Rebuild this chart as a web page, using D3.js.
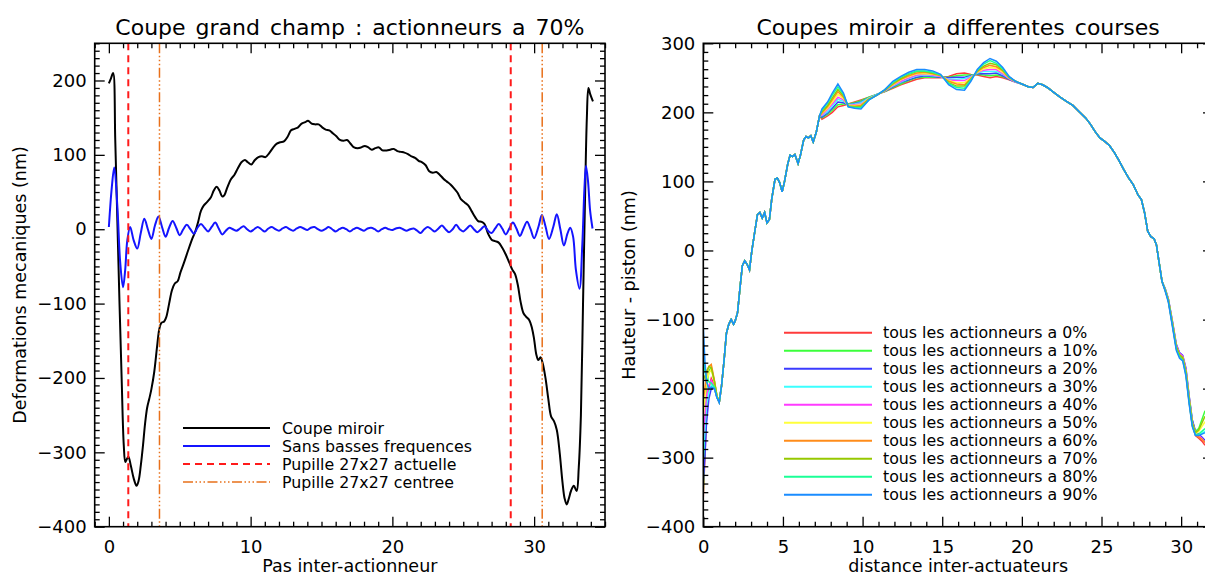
<!DOCTYPE html>
<html>
<head>
<meta charset="utf-8">
<script src="https://d3js.org/d3.v7.min.js"></script>
<style>
  body { margin: 0; background: #fff; }
  svg { display: block; font-family: "DejaVu Sans", sans-serif; }
  .tick text { font-family: "DejaVu Sans", sans-serif; font-size: 18px; fill: #000; }
  .tick line { stroke: #000; stroke-width: 1.3; }
  .titre { font-size: 22px; word-spacing: 3px; }
  .label { font-size: 17.5px; }
  .legende text { font-size: 15.8px; }
</style>
</head>
<body>
<svg id="fig" width="1205" height="577"></svg>
<script>

// ---- panneau gauche : coupe grand champ ----
var xMiroir = [0, 0.15, 0.3, 0.45, 0.6, 0.75, 0.9, 1.05, 1.16, 1.27, 1.38, 1.55, 1.75, 1.95, 2.1, 2.25, 2.4, 2.55, 2.7, 2.85,
  3.0, 3.2, 3.4, 3.55, 3.7, 3.9, 4.05, 4.25, 4.45, 4.65, 4.85, 5.05, 5.3, 5.6, 5.9, 6.1, 6.3, 6.5, 6.7, 6.95,
  7.2, 7.4, 7.6, 7.8, 8.0, 8.15, 8.35, 8.6, 8.85, 9.1, 9.35, 9.6, 9.8, 10.05, 10.3, 10.55, 10.8, 11.05, 11.3, 11.6,
  11.85, 12.1, 12.35, 12.6, 12.85, 13.1, 13.35, 13.6, 13.85, 14.05, 14.3, 14.55, 14.8, 15.05, 15.3, 15.55, 15.8, 16.05, 16.3, 16.55,
  16.8, 17.05, 17.3, 17.55, 17.8, 18.05, 18.3, 18.55, 18.8, 19.05, 19.3, 19.6, 19.85, 20.1, 20.35, 20.6, 20.85, 21.1, 21.35, 21.6,
  21.85, 22.1, 22.35, 22.6, 22.85, 23.1, 23.35, 23.6, 23.85, 24.1, 24.35, 24.6, 24.85, 25.1, 25.35, 25.6, 25.85, 26.05, 26.3, 26.5,
  26.75, 27.0, 27.25, 27.5, 27.75, 28.0, 28.25, 28.45, 28.65, 28.85, 29.05, 29.25, 29.45, 29.65, 29.85, 30.0, 30.15, 30.3, 30.45, 30.6,
  30.8, 31.0, 31.2, 31.4, 31.6, 31.8, 32.0, 32.15, 32.3, 32.45, 32.6, 32.8, 33.0, 33.15, 33.3, 33.45, 33.6, 33.72, 33.83, 33.95,
  34.15];
var yMiroir = [196, 203, 210, 120, 10, -100, -200, -290, -313, -309, -306, -318, -335, -345, -338, -318, -292, -262, -240, -228,
  -215, -192, -158, -135, -126, -124, -118, -100, -82, -73, -70, -58, -45, -28, -12, -3, 10, 25, 32, 37,
  43, 52, 57, 52, 44, 46, 56, 67, 73, 82, 90, 93, 90, 87, 93, 97, 98, 97, 102, 110,
  115, 117, 118, 124, 133, 135, 137, 142, 144, 146, 142, 141, 141, 137, 134, 133, 129, 125, 120, 119,
  120, 115, 110, 109, 110, 112, 110, 107, 109, 110, 106, 106, 107, 108, 105, 104, 103, 101, 98, 96,
  92, 90, 86, 78, 76, 77, 73, 68, 64, 60, 55, 49, 40, 36, 32, 24, 16, 11, 10, 7,
  -6, -14, -16, -18, -25, -34, -45, -54, -60, -75, -98, -113, -118, -122, -133, -148, -168, -176, -172, -180,
  -200, -228, -252, -258, -270, -300, -340, -362, -370, -362, -352, -345, -352, -320, -250, -100, 50, 150, 190, 182,
  172];

var xSansBF = [0, 0.2, 0.38, 0.6, 0.8, 1.0, 1.15, 1.3, 1.5, 1.75, 2.0, 2.25, 2.5, 2.75, 3.0, 3.25, 3.5, 3.75, 4.0, 4.25,
  4.5, 4.75, 5.0, 5.25, 5.5, 5.75, 6.0, 6.25, 6.5, 6.75, 7.0, 7.25, 7.5, 7.75, 8.0, 8.25, 8.5, 8.75, 9.0, 9.25,
  9.5, 9.75, 10.0, 10.25, 10.5, 10.75, 11.0, 11.25, 11.5, 11.75, 12.0, 12.25, 12.5, 12.75, 13.0, 13.25, 13.5, 13.75, 14.0, 14.25,
  14.5, 14.75, 15.0, 15.25, 15.5, 15.75, 16.0, 16.25, 16.5, 16.75, 17.0, 17.25, 17.5, 17.75, 18.0, 18.25, 18.5, 18.75, 19.0, 19.25,
  19.5, 19.75, 20.0, 20.25, 20.5, 20.75, 21.0, 21.25, 21.5, 21.75, 22.0, 22.25, 22.5, 22.75, 23.0, 23.25, 23.5, 23.75, 24.0, 24.25,
  24.5, 24.75, 25.0, 25.25, 25.5, 25.75, 26.0, 26.25, 26.5, 26.75, 27.0, 27.25, 27.5, 27.75, 28.0, 28.25, 28.5, 28.75, 29.0, 29.25,
  29.5, 29.75, 30.0, 30.3, 30.55, 30.8, 31.05, 31.35, 31.6, 31.85, 32.1, 32.35, 32.55, 32.75, 32.95, 33.2, 33.4, 33.55, 33.66, 33.8,
  33.95, 34.12];
var ySansBF = [3, 55, 83, 30, -45, -78, -55, -15, 3, -15, -26, -5, 14, 0, -13, 5, 17, 3, -10, 2,
  11, 2, -8, 0, 6, 0, -6, 2, 7, 2, -3, 3, 9, 1, -7, -2, 2, 0, -2, 1,
  4, 0, -3, 0, 3, 0, -3, 1, 3, 0, -2, 1, 3, 0, -2, 1, 3, 1, -1, 2,
  3, 0, -2, 0, 3, 0, -3, 0, 2, 0, -3, 0, 2, 0, -2, 1, 2, 0, -3, 0,
  2, 0, -1, 1, 2, 0, -2, 0, 1, -2, -5, 0, 3, 0, -3, 1, 5, 0, -4, 0,
  6, 0, -3, 1, 5, 0, -4, 0, 4, -2, -5, 1, 7, 1, -7, 1, 9, 1, -9, 1,
  10, 0, -12, 3, 19, 4, -13, 3, 20, 0, -22, -6, 2, -10, -55, -80, -20, 55, 85, 65,
  25, 1];

var pupilleActuelle = [1.37, 28.35];
var pupilleCentree = [3.57, 30.57];
var legendeGauche = ["Coupe miroir", "Sans basses frequences", "Pupille 27x27 actuelle", "Pupille 27x27 centree"];

// ---- panneau droit : coupes a differentes courses ----
var courses = ["0%", "10%", "20%", "30%", "40%", "50%", "60%", "70%", "80%", "90%"];
var couleurs = ["#ff3b3b", "#3bff3b", "#3b3bff", "#3bffff", "#ff3bff", "#ffff3b", "#ff8c1a", "#96c800", "#1aff96", "#1a8cff"];

var xDebut = [0, 0.1, 0.2, 0.35, 0.5, 0.7, 0.85, 1.0];
var yDebut = [
  [-357, -300, -240, -200, -185, -195, -212, -220],
  [-350, -280, -200, -175, -168, -190, -210, -220],
  [-335, -300, -250, -215, -200, -200, -212, -220],
  [-300, -260, -225, -205, -195, -200, -212, -220],
  [-270, -240, -210, -195, -188, -198, -212, -220],
  [-240, -215, -190, -178, -172, -192, -210, -220],
  [-215, -200, -180, -168, -165, -188, -210, -220],
  [-180, -185, -175, -168, -170, -190, -210, -220],
  [-150, -175, -185, -190, -192, -198, -212, -220],
  [-110, -160, -190, -200, -198, -200, -213, -220]
];

var xCommunA = [1.15, 1.3, 1.45, 1.6, 1.75, 1.9, 2.0, 2.15, 2.3, 2.45, 2.6, 2.75, 2.9, 3.05, 3.25, 3.4, 3.55, 3.7, 3.85, 4.0,
  4.15, 4.3, 4.5, 4.65, 4.8, 4.95, 5.1, 5.3, 5.45, 5.6, 5.75, 5.95, 6.1, 6.3, 6.45, 6.6, 6.75, 6.9, 7.1, 7.3];
var yCommunA = [-195, -160, -120, -107, -100, -107, -102, -90, -55, -22, -15, -20, -28, 0, 30, 52, 55, 47, 55, 40,
  45, 75, 103, 105, 98, 85, 100, 125, 138, 136, 139, 126, 138, 160, 165, 163, 166, 157, 172, 195];

var xMilieu = [7.45, 7.8, 8.1, 8.45, 8.8, 9.1, 9.5, 9.9, 10.4, 10.9, 11.4, 11.9, 12.4, 12.9, 13.4, 13.9, 14.4, 14.9, 15.4, 15.9,
  16.4, 16.8, 17.2, 17.6, 18.0, 18.4, 18.8, 19.2, 19.6];
var yMilieu = [
  [190, 195, 200, 208, 210, 212, 215, 218, 222, 226, 230, 235, 240, 244, 248, 250, 250, 250, 252, 256, 257, 255, 254, 252, 250, 252, 250, 247, 244],
  [192, 197, 203, 211, 212, 212, 214, 217, 222, 226, 230, 236, 241, 246, 250, 251, 251, 251, 251, 253, 254, 254, 255, 254, 253, 254, 252, 248, 244],
  [193, 199, 206, 215, 214, 211, 213, 215, 221, 226, 231, 237, 243, 247, 251, 253, 252, 251, 250, 251, 251, 253, 256, 256, 256, 257, 253, 248, 244],
  [195, 201, 209, 219, 216, 211, 212, 214, 221, 226, 231, 238, 244, 249, 253, 254, 253, 252, 248, 248, 249, 252, 257, 259, 259, 259, 255, 249, 244],
  [196, 204, 212, 222, 218, 210, 211, 212, 220, 225, 231, 239, 245, 250, 254, 255, 254, 252, 247, 246, 246, 251, 258, 261, 262, 262, 256, 249, 244],
  [198, 206, 215, 226, 220, 210, 210, 211, 220, 225, 232, 240, 247, 252, 256, 256, 255, 253, 246, 243, 243, 250, 258, 263, 265, 264, 258, 250, 245],
  [199, 208, 218, 230, 222, 209, 209, 210, 219, 225, 232, 241, 248, 253, 257, 258, 256, 253, 245, 241, 240, 249, 259, 265, 268, 266, 260, 250, 245],
  [201, 210, 221, 233, 224, 209, 208, 208, 219, 225, 232, 242, 249, 255, 259, 259, 257, 254, 243, 238, 238, 248, 260, 267, 271, 269, 261, 251, 245],
  [203, 213, 225, 237, 226, 208, 207, 207, 218, 225, 233, 243, 251, 256, 260, 260, 258, 254, 242, 236, 235, 247, 261, 270, 275, 271, 263, 251, 245],
  [205, 215, 228, 241, 228, 208, 206, 205, 218, 225, 233, 245, 252, 258, 262, 262, 260, 255, 240, 233, 232, 245, 262, 272, 278, 274, 265, 252, 245]
];

var xCommunB = [20.0, 20.4, 20.7, 21.0, 21.3, 21.6, 22.0, 22.4, 22.8, 23.2, 23.6, 24.0, 24.3, 24.6, 24.9, 25.2, 25.5, 25.8, 26.1, 26.4,
  26.7, 27.0, 27.3, 27.5, 27.7, 27.9, 28.1, 28.3, 28.45, 28.6, 28.8];
var yCommunB = [241, 237, 236, 242, 240, 236, 229, 222, 216, 210, 201, 192, 183, 172, 163, 158, 152, 142, 130, 117,
  105, 95, 80, 74, 55, 28, 20, 17, 8, -15, -45];

var xFin = [29.0, 29.2, 29.45, 29.7, 29.9, 30.1, 30.3, 30.5, 30.7, 30.9, 31.1, 31.3, 31.5];
var yFin = [
  [-57, -73, -107, -142, -152, -157, -178, -218, -253, -268, -272, -276, -282],
  [-56, -71, -104, -138, -149, -154, -173, -212, -246, -262, -258, -245, -232],
  [-55, -70, -102, -136, -148, -152, -170, -210, -245, -262, -266, -270, -275],
  [-57, -72, -105, -140, -151, -156, -176, -216, -250, -265, -267, -265, -262],
  [-56, -71, -103, -137, -149, -153, -172, -212, -248, -264, -268, -272, -278],
  [-57, -72, -105, -140, -151, -155, -175, -215, -250, -265, -262, -255, -248],
  [-58, -73, -106, -141, -152, -157, -177, -218, -252, -267, -270, -273, -278],
  [-57, -72, -105, -139, -151, -155, -175, -214, -249, -264, -260, -250, -240],
  [-58, -74, -108, -143, -154, -159, -180, -220, -254, -267, -266, -262, -258],
  [-59, -75, -110, -145, -156, -160, -182, -222, -255, -268, -268, -266, -264]
];

var svg = d3.select("#fig");
svg.append("rect").attr("width", 1205).attr("height", 577).attr("fill", "#fff");

function panneau(o) {
  var x = d3.scaleLinear().domain(o.xDom).range([o.left, o.right]);
  var y = d3.scaleLinear().domain(o.yDom).range([o.bottom, o.top]);

  svg.append("clipPath").attr("id", "clip" + o.nom)
    .append("rect")
    .attr("x", o.left).attr("y", o.top)
    .attr("width", o.right - o.left).attr("height", o.bottom - o.top);

  var g = svg.append("g");
  var plot = g.append("g").attr("clip-path", "url(#clip" + o.nom + ")");

  function pose(axe, tx, ty) {
    var a = g.append("g").attr("transform", "translate(" + tx + "," + ty + ")").call(axe);
    a.select(".domain").remove();
    return a;
  }
  var fmt = d3.format("d");
  // bas
  pose(d3.axisBottom(x).tickValues(o.xMaj).tickSize(-10).tickPadding(14).tickFormat(fmt), 0, o.bottom);
  pose(d3.axisBottom(x).tickValues(o.xMin).tickSize(-5).tickFormat(""), 0, o.bottom);
  // haut
  pose(d3.axisTop(x).tickValues(o.xMaj).tickSize(-10).tickFormat(""), 0, o.top);
  pose(d3.axisTop(x).tickValues(o.xMin).tickSize(-5).tickFormat(""), 0, o.top);
  // gauche
  pose(d3.axisLeft(y).tickValues(o.yMaj).tickSize(-10).tickPadding(8).tickFormat(fmt), o.left, 0);
  pose(d3.axisLeft(y).tickValues(o.yMin).tickSize(-5).tickFormat(""), o.left, 0);
  // droite
  pose(d3.axisRight(y).tickValues(o.yMaj).tickSize(-10).tickFormat(""), o.right, 0);
  pose(d3.axisRight(y).tickValues(o.yMin).tickSize(-5).tickFormat(""), o.right, 0);

  g.append("rect")
    .attr("x", o.left).attr("y", o.top)
    .attr("width", o.right - o.left).attr("height", o.bottom - o.top)
    .attr("fill", "none").attr("stroke", "#000").attr("stroke-width", 1.6);

  var cx = (o.left + o.right) / 2;
  g.append("text").attr("class", "titre")
    .attr("x", cx).attr("y", 34.5).attr("text-anchor", "middle").text(o.titre);
  g.append("text").attr("class", "label")
    .attr("x", cx).attr("y", 571.5).attr("text-anchor", "middle").text(o.xTitre);
  g.append("text").attr("class", "label")
    .attr("transform", "translate(" + o.yTitreX + "," + ((o.top + o.bottom) / 2) + ") rotate(-90)")
    .attr("text-anchor", "middle").text(o.yTitre);

  return {x: x, y: y, plot: plot, g: g};
}

// ---------- gauche ----------
var G = panneau({
  nom: "G", left: 94.7, right: 605, top: 43.3, bottom: 526.7,
  xDom: [-1, 35], yDom: [-400, 250],
  xMaj: [0, 10, 20, 30], xMin: d3.range(-1, 36).filter(v => v % 10 !== 0),
  yMaj: [-400, -300, -200, -100, 0, 100, 200], yMin: d3.range(-400, 251, 10).filter(v => v % 100 !== 0),
  titre: "Coupe grand champ : actionneurs a 70%",
  xTitre: "Pas inter-actionneur",
  yTitre: "Deformations mecaniques (nm)", yTitreX: 25.5
});

var lisse = d3.line()
  .x(d => G.x(d[0])).y(d => G.y(d[1]))
  .curve(d3.curveCatmullRom.alpha(0.5));

G.plot.append("path").datum(d3.zip(xMiroir, yMiroir))
  .attr("d", lisse).attr("fill", "none").attr("stroke", "#000").attr("stroke-width", 2);
G.plot.append("path").datum(d3.zip(xSansBF, ySansBF))
  .attr("d", lisse).attr("fill", "none").attr("stroke", "#1414ff").attr("stroke-width", 2);

var styles = [
  {stroke: "#000", width: 2, dash: null},
  {stroke: "#1414ff", width: 2, dash: null},
  {stroke: "#ff1a1a", width: 2, dash: "7,5"},
  {stroke: "#e8701a", width: 1.5, dash: "10,2.5,1.5,2.5,1.5,2.5,1.5,2.5"}
];

G.plot.selectAll(".pa").data(pupilleActuelle).enter().append("line")
  .attr("x1", d => G.x(d)).attr("x2", d => G.x(d))
  .attr("y1", G.y(250)).attr("y2", G.y(-400))
  .attr("stroke", styles[2].stroke).attr("stroke-width", styles[2].width).attr("stroke-dasharray", styles[2].dash);
G.plot.selectAll(".pc").data(pupilleCentree).enter().append("line")
  .attr("x1", d => G.x(d)).attr("x2", d => G.x(d))
  .attr("y1", G.y(250)).attr("y2", G.y(-400))
  .attr("stroke", styles[3].stroke).attr("stroke-width", styles[3].width).attr("stroke-dasharray", styles[3].dash);

var legG = G.g.append("g").attr("class", "legende");
legendeGauche.forEach(function(t, i) {
  var yy = 428 + i * 18;
  legG.append("line").attr("x1", 183).attr("x2", 270).attr("y1", yy).attr("y2", yy)
    .attr("stroke", styles[i].stroke).attr("stroke-width", styles[i].width).attr("stroke-dasharray", styles[i].dash);
  legG.append("text").attr("x", 282).attr("y", yy).attr("dy", "0.36em").text(t);
});

// ---------- droite ----------
var D = panneau({
  nom: "D", left: 703.3, right: 1213, top: 43.3, bottom: 526.7,
  xDom: [0, 32], yDom: [-400, 300],
  xMaj: [0, 5, 10, 15, 20, 25, 30], xMin: d3.range(0, 33).filter(v => v % 5 !== 0),
  yMaj: [-400, -300, -200, -100, 0, 100, 200, 300], yMin: d3.range(-400, 301, 12.5).filter(v => v % 100 !== 0),
  titre: "Coupes miroir a differentes courses",
  xTitre: "distance inter-actuateurs",
  yTitre: "Hauteur - piston (nm)", yTitreX: 634.5
});

var brut = d3.line().x(d => D.x(d[0])).y(d => D.y(d[1]));

courses.forEach(function(c, i) {
  var pts = d3.zip(xDebut, yDebut[i])
    .concat(d3.zip(xCommunA, yCommunA))
    .concat(d3.zip(xMilieu, yMilieu[i]))
    .concat(d3.zip(xCommunB, yCommunB))
    .concat(d3.zip(xFin, yFin[i]));
  D.plot.append("path").datum(pts)
    .attr("d", brut).attr("fill", "none")
    .attr("stroke", couleurs[i]).attr("stroke-width", 1.5);
});

var legD = D.g.append("g").attr("class", "legende");
courses.forEach(function(c, i) {
  var yy = 332.7 + i * 18;
  legD.append("line").attr("x1", 784).attr("x2", 872).attr("y1", yy).attr("y2", yy)
    .attr("stroke", couleurs[i]).attr("stroke-width", 2);
  legD.append("text").attr("x", 883).attr("y", yy).attr("dy", "0.36em").text("tous les actionneurs a " + c);
});

</script>
</body>
</html>
